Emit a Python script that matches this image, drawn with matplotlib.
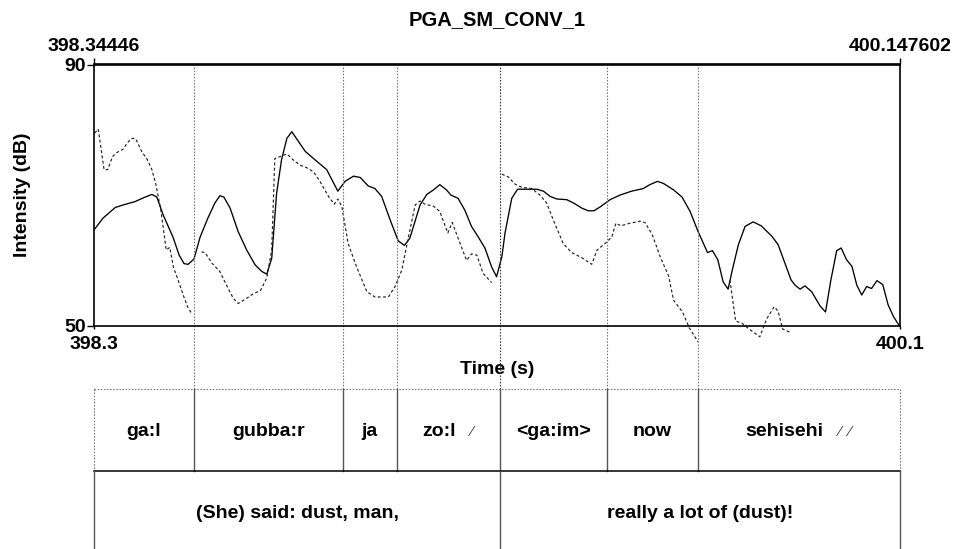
import matplotlib
matplotlib.use('Agg')
import matplotlib.pyplot as plt

plt.rcParams['font.family'] = ['Liberation Sans', 'DejaVu Sans']
plt.rcParams['font.weight'] = 'bold'
plt.rcParams['axes.labelweight'] = 'bold'
plt.rcParams['font.size'] = 14

#### data ####
t_start = 398.34446
t_end = 400.147602

# solid line: intensity
sol_t = [398.346, 398.365, 398.392, 398.410, 398.436, 398.459, 398.474, 398.485, 398.499, 398.521,
         398.535, 398.546, 398.555, 398.568, 398.582, 398.600, 398.615, 398.626, 398.635, 398.649,
         398.667, 398.686, 398.705, 398.720, 398.731, 398.742, 398.753, 398.764, 398.776, 398.787,
         398.805, 398.817, 398.839, 398.865, 398.890, 398.906, 398.925, 398.940, 398.958, 398.973,
         398.988, 399.007, 399.025, 399.039, 399.051, 399.074, 399.089, 399.104, 399.118, 399.133,
         399.143, 399.159, 399.174, 399.189, 399.204, 399.219, 399.234, 399.245, 399.257, 399.264,
         399.279, 399.292, 399.312, 399.335, 399.350, 399.365, 399.380, 399.402, 399.417, 399.436,
         399.450, 399.463, 399.477, 399.499, 399.521, 399.547, 399.573, 399.588, 399.605, 399.618,
         399.641, 399.660, 399.678, 399.696, 399.717, 399.728, 399.740, 399.752, 399.763, 399.772,
         399.786, 399.801, 399.819, 399.837, 399.861, 399.875, 399.890, 399.904, 399.913, 399.924,
         399.935, 399.950, 399.969, 399.981, 399.993, 400.006, 400.016, 400.028, 400.040, 400.051,
         400.062, 400.073, 400.084, 400.096, 400.109, 400.121, 400.133, 400.146]
sol_db = [64.8, 66.5, 68.1, 68.5, 69.0, 69.7, 70.1, 69.7, 67.0, 63.6,
          60.8, 59.5, 59.4, 60.2, 63.6, 66.6, 68.8, 69.9, 69.7, 68.0,
          64.4, 61.6, 59.3, 58.3, 57.9, 60.3, 70.3, 75.4, 78.7, 79.7,
          77.9, 76.7, 75.4, 73.9, 70.6, 72.1, 72.9, 72.7, 71.4, 71.0,
          69.8, 66.2, 63.0, 62.3, 63.4, 68.5, 70.1, 70.8, 71.6, 70.8,
          70.0, 69.5, 67.7, 65.2, 63.6, 61.9, 59.0, 57.5, 60.6, 64.2,
          69.5, 70.9, 70.9, 70.9, 70.6, 69.8, 69.4, 69.3, 68.8, 68.0,
          67.6, 67.6, 68.2, 69.3, 70.0, 70.6, 71.0, 71.6, 72.1, 71.8,
          70.8, 69.7, 67.5, 64.4, 61.2, 61.5, 60.1, 56.7, 55.6, 58.4,
          62.4, 65.2, 65.9, 65.3, 63.7, 62.4, 59.6, 57.0, 56.2, 55.6,
          56.1, 55.2, 53.0, 52.1, 57.0, 61.5, 61.9, 60.1, 59.1, 56.2,
          54.7, 56.0, 55.7, 56.9, 56.3, 53.2, 51.4, 50.0]

# dotted line, four pieces
dot1_t = [398.346, 398.354, 398.367, 398.375, 398.386, 398.395, 398.409, 398.419, 398.429, 398.438,
          398.451, 398.464, 398.474, 398.483, 398.494, 398.506, 398.514, 398.522, 398.531, 398.544,
          398.555, 398.563]
dot1_db = [79.5, 80.1, 73.9, 73.9, 75.9, 76.5, 77.0, 78.0, 78.7, 78.6,
           76.7, 75.4, 73.9, 71.6, 67.7, 61.6, 62.0, 59.0, 57.3, 54.7,
           52.7, 51.9]
dot2_t = [398.585, 398.593, 398.608, 398.626, 398.641, 398.656, 398.667, 398.686, 398.701, 398.717,
          398.731, 398.742, 398.749, 398.761, 398.776, 398.790, 398.805, 398.820, 398.835, 398.850,
          398.869, 398.882, 398.890, 398.899, 398.913, 398.932, 398.955, 398.973, 399.003, 399.018,
          399.033, 399.048, 399.063, 399.074, 399.085, 399.104, 399.118, 399.136, 399.146, 399.159,
          399.178, 399.189, 399.201, 399.215, 399.234]
dot2_db = [61.3, 61.2, 59.6, 58.3, 56.2, 54.2, 53.4, 54.2, 54.9, 55.4,
           57.3, 61.6, 75.6, 75.9, 76.3, 75.4, 74.6, 74.2, 73.6, 72.1,
           69.8, 68.6, 69.4, 68.2, 62.6, 59.0, 55.2, 54.4, 54.4, 56.0,
           58.5, 63.6, 68.5, 69.1, 68.6, 68.3, 67.5, 64.2, 65.8, 63.4,
           60.0, 61.0, 60.8, 58.0, 56.6]
dot3_t = [399.257, 399.271, 399.286, 399.301, 399.324, 399.342, 399.357, 399.372, 399.394, 399.413,
          399.436, 399.458, 399.470, 399.488, 399.503, 399.512, 399.523, 399.544, 399.566, 399.577,
          399.593, 399.612, 399.630, 399.641, 399.661, 399.676, 399.696]
dot3_db = [73.2, 72.8, 71.7, 71.2, 71.0, 70.0, 68.8, 66.2, 62.6, 61.2,
           60.4, 59.4, 61.6, 62.6, 63.6, 65.7, 65.3, 65.7, 66.0, 65.8,
           64.0, 60.4, 57.6, 53.9, 52.1, 49.7, 47.5]
dot4_t = [399.767, 399.780, 399.794, 399.808, 399.834, 399.849, 399.866, 399.875, 399.885, 399.901]
dot4_db = [57.0, 50.7, 50.4, 49.6, 48.3, 51.0, 52.9, 52.2, 49.5, 49.0]

# annotation tiers (the slash marks are drawn in a thin font after the word)
words = ['ga:l', 'gubba:r', 'ja', 'zo:l', '<ga:im>', 'now', 'sehisehi']
word_marks = [0, 0, 0, 1, 0, 0, 2]
word_bounds = [t_start, 398.568, 398.901, 399.022, 399.253, 399.492, 399.696, t_end]
phrases = ['(She) said: dust, man,', 'really a lot of (dust)!']
phrase_bounds = [t_start, 399.253, t_end]

#### figure ####
W, H = 957, 549
fig = plt.figure(figsize=(W / 100, H / 100), dpi=100)

ax_l, ax_r, ax_top, ax_bot = 94, 900, 64.5, 325.7
ax = fig.add_axes([ax_l / W, 1 - ax_bot / H, (ax_r - ax_l) / W, (ax_bot - ax_top) / H])
ax.set_xlim(t_start, t_end)
ax.set_ylim(50, 90)

ax.plot(sol_t, sol_db, color='black', lw=0.95, clip_on=False)
for tt, dd in [(dot1_t, dot1_db), (dot2_t, dot2_db), (dot3_t, dot3_db), (dot4_t, dot4_db)]:
    ax.plot(tt, dd, color='#222222', lw=0.85, linestyle=(0, (2.5, 2)), clip_on=False)

for s in ax.spines.values():
    s.set_linewidth(1.2)
    s.set_color('black')

ax.set_xticks([t_start, t_end], ['398.3', '400.1'])
ax.set_yticks([50, 90], ['50', '90'])
ax.tick_params(axis='x', direction='out', length=2.5, width=1, pad=5)
ax.tick_params(axis='y', direction='out', length=5, width=1, pad=0.5)
secax = ax.secondary_xaxis('top')
secax.set_xticks([t_start, t_end], ['398.34446', '400.147602'])
secax.tick_params(direction='out', length=4, width=1, pad=2.5)
secax.spines['top'].set_linewidth(1.2)

ax.set_xlabel('Time (s)')
ax.xaxis.set_label_coords(0.5, -(361 - ax_bot) / (ax_bot - ax_top))
fig.text(23 / W, 1 - 195 / H, 'Intensity (dB)', rotation=90, ha='center', va='center')
fig.text(497 / W, 1 - 20 / H, 'PGA_SM_CONV_1', ha='center', va='center', fontsize=14.5)

# tier area, same time axis, y in pixels from the top
tier_top, tier_mid, tier_bot = 389.3, 471, H + 5
tax = fig.add_axes([ax_l / W, 0, (ax_r - ax_l) / W, (H - tier_top) / H])
tax.set_xlim(t_start, t_end)
tax.set_ylim(H, tier_top)
tax.axis('off')

# dotted boundary lines running from the plot top down to the tiers
ylo = -(tier_top - ax_bot) / (ax_bot - ax_top)
for b in word_bounds[1:-1]:
    c = '#333333' if b == 399.253 else '#777777'
    ax.axvline(b, ymin=ylo, ymax=1, color=c, lw=0.8, linestyle=(0, (1.4, 1.4)), clip_on=False)

dot_kw = dict(color='#777777', lw=0.8, linestyle=(0, (1.4, 1.4)), clip_on=False)
tax.plot([t_start, t_end], [tier_top, tier_top], **dot_kw)
tax.plot([t_start, t_start], [tier_top, tier_mid], **dot_kw)
tax.plot([t_end, t_end], [tier_top, tier_mid], **dot_kw)
for b in word_bounds[1:-1]:
    tax.plot([b, b], [tier_top, tier_mid], color='#555555', lw=1, clip_on=False)
tax.plot([t_start, t_end], [tier_mid, tier_mid], color='black', lw=1.1, clip_on=False)
for b in phrase_bounds:
    tax.plot([b, b], [tier_mid, tier_bot], color='#555555', lw=1, clip_on=False)

renderer = fig.canvas.get_renderer()
to_px = tax.transData.transform
to_data = tax.transData.inverted().transform
gap, step, mark_w = 13, 10, 6
for i, w in enumerate(words):
    mid = (word_bounds[i] + word_bounds[i + 1]) / 2
    n = word_marks[i]
    if n == 0:
        tax.text(mid, 431, w, ha='center', va='center')
        continue
    tmp = tax.text(mid, 431, w)
    ww = tmp.get_window_extent(renderer).width
    tmp.remove()
    total = ww + gap + (n - 1) * step + mark_w
    x0 = to_px((mid, 0))[0] - total / 2
    tax.text(to_data((x0, 0))[0], 431, w, ha='left', va='center')
    for k in range(n):
        xs = x0 + ww + gap + k * step + mark_w / 2
        tax.text(to_data((xs, 0))[0], 432.5, '\u2044', ha='center', va='center',
                 fontweight='normal', fontsize=11, color='#444444')
for i, p in enumerate(phrases):
    tax.text((phrase_bounds[i] + phrase_bounds[i + 1]) / 2, 513, p, ha='center', va='center')

fig.savefig('out.png', dpi=100)
